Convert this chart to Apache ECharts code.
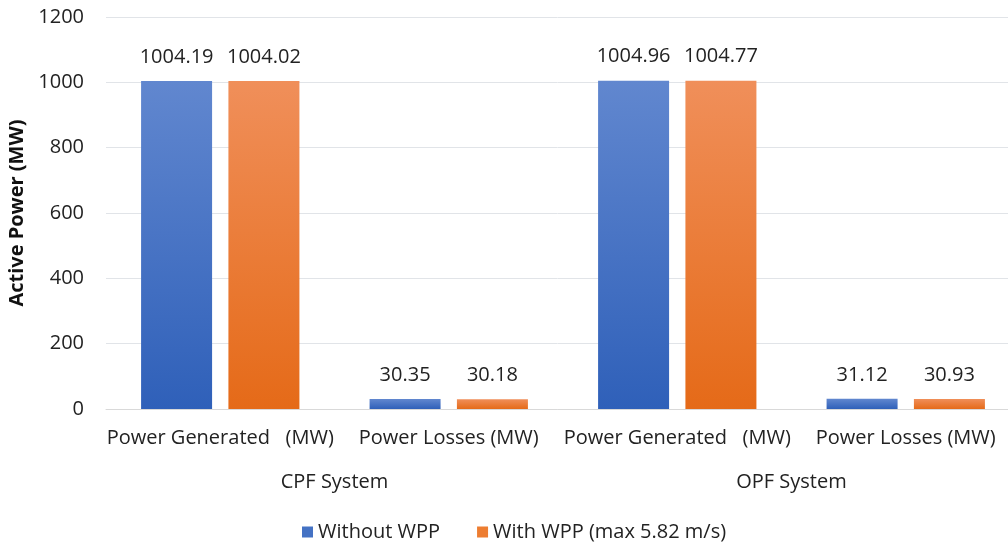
<!DOCTYPE html>
<html><head><meta charset="utf-8">
<script src="https://cdn.jsdelivr.net/npm/echarts@6/dist/echarts.min.js"></script>
<style>html,body{margin:0;padding:0;background:#fff}#c{width:1008px;height:542px}</style>
</head><body><div id="c"></div>
<script>
const categories = ['Power Generated   (MW)', 'Power Losses (MW)', 'Power Generated   (MW)', 'Power Losses (MW)'];
const groups = ['CPF System', 'OPF System'];
const seriesNames = ['Without WPP', 'With WPP (max 5.82 m/s)'];
const withoutWPP = [1004.19, 30.35, 1004.96, 31.12];
const withWPP = [1004.02, 30.18, 1004.77, 30.93];
const yTicks = { min: 0, max: 1200, interval: 200 };

const FONT = "'Open Sans', 'Noto Sans', sans-serif";
const FS = 20;
const grad = (top, bottom) => new echarts.graphic.LinearGradient(0, 0, 0, 1, [
  { offset: 0, color: top }, { offset: 1, color: bottom }]);
const blue = grad('#6187cf', '#2f60b9');
const orange = grad('#f08f5a', '#e56a18');

const chart = echarts.init(document.getElementById('c'));
chart.setOption({
  animation: false,
  textStyle: { fontFamily: FONT },
  grid: { left: 106, width: 914, top: 17, height: 392, outerBoundsMode: 'none', containLabel: false },
  legend: {
    top: 517, left: 297, itemWidth: 11, itemHeight: 11, itemGap: 37,
    icon: 'rect',
    textStyle: { fontFamily: FONT, fontSize: FS, color: '#222' },
    data: [{ name: seriesNames[0], itemStyle: { color: '#4472c4' } },
           { name: seriesNames[1], itemStyle: { color: '#ed7d31' } }]
  },
  xAxis: [{
    type: 'category', data: categories,
    axisLine: { lineStyle: { color: '#d9d9d9' } }, axisTick: { show: false },
    axisLabel: { fontFamily: FONT, fontSize: FS, color: '#222', margin: 19, interval: 0 }
  }, {
    type: 'category', data: groups, position: 'bottom',
    axisLine: { show: false }, axisTick: { show: false },
    axisLabel: { fontFamily: FONT, fontSize: FS, color: '#222', margin: 63, interval: 0 }
  }],
  yAxis: {
    type: 'value', min: yTicks.min, max: yTicks.max, interval: yTicks.interval,
    name: 'Active Power (MW)', nameLocation: 'middle', nameGap: 72,
    nameTextStyle: { fontFamily: FONT, fontSize: 20, fontWeight: 'bold', color: '#111' },
    axisLabel: { fontFamily: FONT, fontSize: FS, color: '#222', margin: 22, formatter: v => String(v) },
    splitLine: { lineStyle: { color: '#e1e4e8' } },
    axisLine: { show: false }, axisTick: { show: false }
  },
  series: [{
    name: seriesNames[0], type: 'bar', data: withoutWPP, barWidth: 71, barGap: '23%',
    itemStyle: { color: blue },
    label: { show: true, position: 'top', distance: 14, fontFamily: FONT, fontSize: FS, color: '#222' }
  }, {
    name: seriesNames[1], type: 'bar', data: withWPP, barWidth: 71,
    itemStyle: { color: orange },
    label: { show: true, position: 'top', distance: 14, fontFamily: FONT, fontSize: FS, color: '#222' }
  }]
});
</script></body></html>
